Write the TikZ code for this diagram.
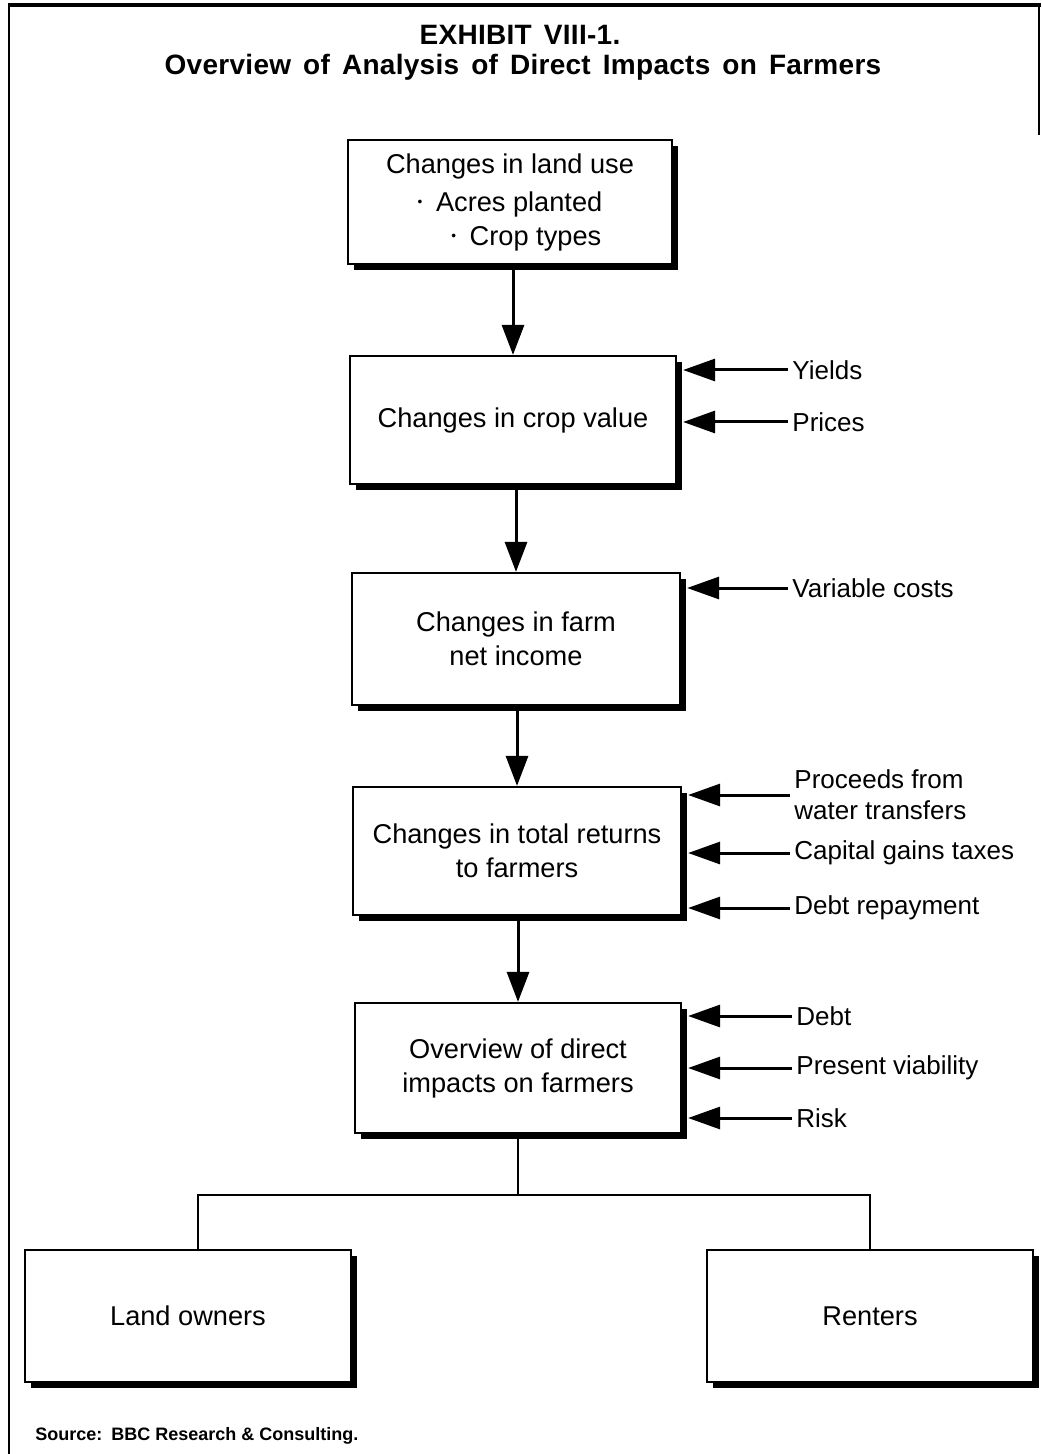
\documentclass[tikz,border=0pt]{standalone}
\usepackage{fontspec}
\setmainfont{Liberation Sans}
\newfontfamily\widefont[LetterSpace=1,WordSpace=1.5]{Liberation Sans}
\usetikzlibrary{arrows.meta,shadows}
\tikzset{
  stage/.style={draw, line width=1.1pt, fill=white, align=center,
    font=\fontsize{13.6}{17}\selectfont,
    drop shadow={fill=black, opacity=1, shadow xshift=3pt, shadow yshift=-3pt}},
  side/.style={anchor=west, inner sep=2pt, align=left,
    font=\fontsize{13}{15.5}\selectfont},
  heading/.style={inner sep=0pt, anchor=base, font=\widefont\bfseries\fontsize{14}{16}\selectfont},
  flow/.style={line width=1.5pt, -{Triangle[length=15pt,width=11pt]}},
  feed/.style={line width=1.5pt, -{Triangle[length=16pt,width=11pt]}},
  branch/.style={line width=1pt}
}
\newcommand{\dotitem}{\raisebox{0.3ex}{\scalebox{0.5}{\textbullet}}\enspace}
\begin{document}
\begin{tikzpicture}[x=0.5pt,y=-0.5pt]
  \useasboundingbox (0,0) rectangle (1041,1454);
  % frame
  \draw[line width=2pt] (8,5) -- (1041,5);
  \draw[line width=1pt] (9,5) -- (9,1454);
  \draw[line width=1pt] (1039,5) -- (1039,135);
  % title
  \node[heading] (ttl) at (520,45) {EXHIBIT VIII-1.};
  \node[heading] (sub) at (523,75) {Overview of Analysis of Direct Impacts on Farmers};
  % main chain
  \node[stage, minimum width=162pt, minimum height=62pt] (use) at (510,202)
    {Changes in land use\\[2pt] \dotitem Acres planted\\ \hspace*{1.2em}\dotitem Crop types};
  \node[stage, minimum width=163pt, minimum height=64pt] (crop) at (513,420) {Changes in crop value};
  \node[stage, minimum width=164pt, minimum height=66pt] (farm) at (516,639) {Changes in farm\\ net income};
  \node[stage, minimum width=164pt, minimum height=64pt] (ret) at (517,851) {Changes in total returns\\ to farmers};
  \node[stage, minimum width=163pt, minimum height=65pt] (dir) at (518,1068) {Overview of direct\\ impacts on farmers};
  \node[stage, minimum width=163pt, minimum height=66pt] (own) at (188,1316) {Land owners};
  \node[stage, minimum width=163pt, minimum height=66pt] (rent) at (870,1316) {Renters};
  \draw[flow] (use.south -| crop.north) -- (crop.north);
  \draw[flow] (crop.south -| farm.north) -- (farm.north);
  \draw[flow] (farm.south -| ret.north) -- (ret.north);
  \draw[flow] (ret.south -| dir.north) -- (dir.north);
  % split into owners and renters
  \coordinate (fork) at (518,1195);
  \draw[branch] (dir.south) -- (fork);
  \draw[branch] ([xshift=5pt]own.north) |- (fork) -| (rent.north);
  % side inputs
  \node[side] (yld) at (788,370) {Yields};
  \node[side] (prc) at (788,422) {Prices};
  \node[side] (var) at (788,588) {Variable costs};
  \node[side] (pro) at (790,795) {Proceeds from\\ water transfers};
  \node[side] (cap) at (790,853) {Capital gains taxes};
  \node[side] (rep) at (790,908) {Debt repayment};
  \node[side] (dbt) at (792,1016) {Debt};
  \node[side] (via) at (792,1068) {Present viability};
  \node[side] (rsk) at (792,1118) {Risk};
  \foreach \lbl/\tgt in {yld/crop, prc/crop, var/farm, pro/ret, cap/ret, rep/ret, dbt/dir, via/dir, rsk/dir}
    \draw[feed] (\lbl.west) -- ([xshift=3pt]\lbl.west -| \tgt.east);
  % source
  \node[anchor=west, inner sep=0pt] (src) at (35,1436)
    {\bfseries\fontsize{9}{10}\selectfont Source:\enspace BBC Research \& Consulting.};
\end{tikzpicture}
\end{document}
